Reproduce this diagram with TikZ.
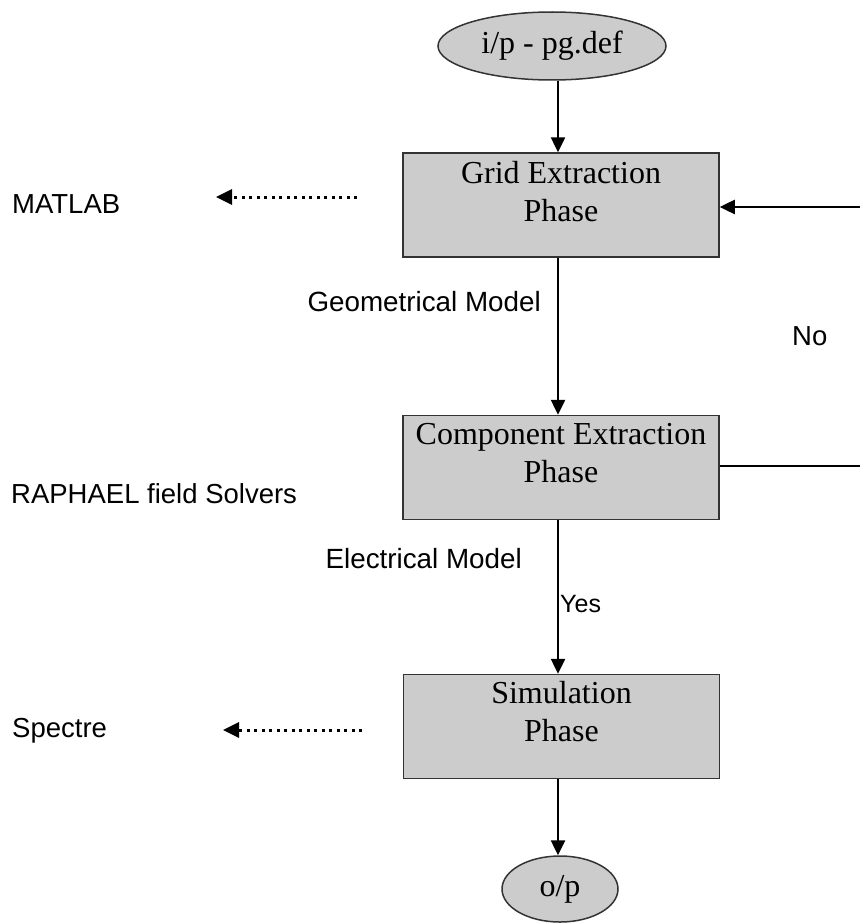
\documentclass[tikz,border=0pt]{standalone}
\usepackage{fontspec}
\setmainfont{Liberation Serif}
\newfontfamily\arialfont{Liberation Sans}
\usetikzlibrary{arrows.meta,shapes.geometric}
\definecolor{boxgray}{HTML}{CCCCCC}
\definecolor{edgegray}{HTML}{333333}

\tikzset{
  phasebox/.style={draw=edgegray, fill=boxgray, line width=1.5pt, rectangle,
    minimum width=316pt, minimum height=104pt, inner sep=0pt},
  terminal/.style={draw=edgegray, fill=boxgray, line width=1.5pt, ellipse,
    inner sep=0pt, font=\fontsize{32}{38}\selectfont},
  boxtxt/.style={inner sep=0pt, anchor=base, font=\fontsize{32}{38}\selectfont},
  toolnote/.style={inner sep=0pt, font=\arialfont\fontsize{27.5}{32}\selectfont},
  modelnote/.style={inner sep=0pt, font=\arialfont\fontsize{27.8}{32}\selectfont},
  branchnote/.style={inner sep=0pt, font=\arialfont\fontsize{25}{30}\selectfont},
  conn/.style={line width=2.5pt, -{Triangle[length=15pt,width=14pt]}},
  plainconn/.style={line width=2.5pt},
  toolarrow/.style={line width=3pt, dash pattern=on 3pt off 4.5pt,
    -{Triangle[length=16pt,width=15pt]}}
}

\begin{document}
\begin{tikzpicture}[x=1pt, y=-1pt]
  \useasboundingbox (0,0) rectangle (860,923);

  % flow nodes
  \node[terminal, minimum width=228pt, minimum height=68pt] (ip) at (552,46) {i/p - pg.def};
  \node[phasebox] (grid) at (561,205) {};
  \node[phasebox] (comp) at (561,467.5) {};
  \node[phasebox] (sim)  at (561.5,726.5) {};
  \node[terminal, minimum width=116pt, minimum height=66pt] (op) at (560,889) {o/p};

  % box captions, set near the top edge of each box
  \node[boxtxt] (gridtxt) at ([yshift=-31pt]grid.north)
    {\begin{tabular}[t]{@{}c@{}}Grid Extraction\\Phase\end{tabular}};
  \node[boxtxt] (comptxt) at ([yshift=-30pt]comp.north)
    {\begin{tabular}[t]{@{}c@{}}Component Extraction\\Phase\end{tabular}};
  \node[boxtxt] (simtxt) at ([yshift=-30pt]sim.north)
    {\begin{tabular}[t]{@{}c@{}}Simulation\\Phase\end{tabular}};

  % reference points for the connectors
  \coordinate (spine) at (558,0);
  \coordinate (fbin) at (860,207);
  \coordinate (fbout) at (860,466);
  \coordinate (matfrom) at (357,197);
  \coordinate (matto) at (216,197);
  \coordinate (spcfrom) at (362,730);
  \coordinate (spcto) at (223,730);

  % main flow
  \draw[conn] (ip.south -| spine) -- (grid.north -| spine);
  \draw[conn] (grid.south -| spine) -- (comp.north -| spine);
  \draw[conn] (comp.south -| spine) -- (sim.north -| spine);
  \draw[conn] (sim.south -| spine) -- (op.north -| spine);

  % feedback loop on the right
  \draw[conn] (fbin) -- (grid.east |- fbin);
  \draw[plainconn] (comp.east |- fbout) -- (fbout);

  % tool pointers
  \draw[toolarrow] (matfrom) -- (matto);
  \draw[toolarrow] (spcfrom) -- (spcto);

  % side labels
  \node[toolnote, anchor=base west] (matlab) at (12,213) {MATLAB};
  \node[toolnote, anchor=base west] (raphael) at (11,503) {RAPHAEL field Solvers};
  \node[toolnote, anchor=base west] (spectre) at (12,737) {Spectre};
  \node[modelnote, anchor=base east] (geom) at (541,311) {Geometrical Model};
  \node[modelnote, anchor=base east] (elec) at (522,568) {Electrical Model};
  \node[branchnote, anchor=base west] (yes) at (560,612) {Yes};
  \node[toolnote, anchor=base west] (no) at (792,345) {No};
\end{tikzpicture}
\end{document}
